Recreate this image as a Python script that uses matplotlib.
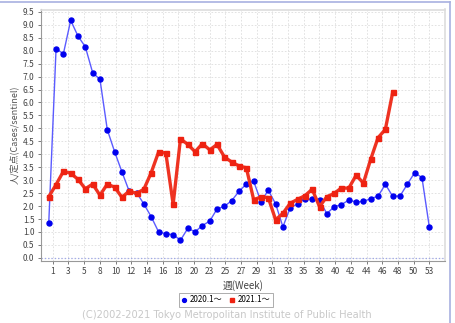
"""週別 定点当たり報告数（2020年 / 2021年）の折れ線グラフ。"""

import matplotlib

matplotlib.use("Agg")
import matplotlib.pyplot as plt
import numpy as np
from matplotlib.lines import Line2D

plt.rcParams["font.family"] = ["Noto Sans CJK JP", "DejaVu Sans"]
plt.rcParams["axes.unicode_minus"] = False

# ---- データ ----
weeks_2020 = list(range(1, 54))
cases_2020 = [
    1.34, 8.08, 7.88, 9.17, 8.56, 8.15, 7.15, 6.89, 4.95, 4.10,
    3.32, 2.57, 2.52, 2.08, 1.59, 1.01, 0.93, 0.90, 0.68, 1.14,
    1.01, 1.25, 1.42, 1.89, 1.99, 2.21, 2.57, 2.85, 2.96, 2.17,
    2.61, 2.09, 1.20, 1.94, 2.08, 2.28, 2.26, 2.23, 1.71, 1.97,
    2.06, 2.23, 2.16, 2.18, 2.29, 2.38, 2.84, 2.38, 2.39, 2.84,
    3.29, 3.10, 1.21,
]
weeks_2021 = list(range(1, 49))
cases_2021 = [
    2.36, 2.83, 3.34, 3.27, 3.03, 2.67, 2.85, 2.42, 2.85, 2.73,
    2.34, 2.58, 2.49, 2.65, 3.29, 4.08, 4.05, 2.07, 4.60, 4.38,
    4.10, 4.41, 4.17, 4.38, 3.90, 3.70, 3.55, 3.48, 2.25, 2.35,
    2.33, 1.47, 1.72, 2.11, 2.26, 2.40, 2.65, 1.98, 2.36, 2.49,
    2.70, 2.69, 3.19, 2.89, 3.81, 4.64, 4.96, 6.39,
]
week_labels = ["1", "3", "5", "8", "10", "12", "14", "16", "18", "20", "23", "25",
               "27", "29", "31", "33", "35", "38", "40", "42", "44", "46", "48",
               "50", "53"]
y_ticks = np.arange(0, 9.51, 0.5)

W, H = 455, 323
fig = plt.figure(figsize=(W / 100, H / 100), dpi=100)
ax = fig.add_axes([40.7 / W, 1 - 261 / H, (445 - 40.7) / W, (261 - 9.5) / H])

ax.plot(weeks_2020, cases_2020, color="#5b5bff", linewidth=1.0, marker="o",
        markersize=3.6, markerfacecolor="#0000ee", markeredgecolor="#0000ee",
        zorder=3, label="2020.1～")
ax.plot(weeks_2021, cases_2021, color="#ee3322", linewidth=2.4, marker="s",
        markersize=3.6, markerfacecolor="#ee2211", markeredgecolor="#ee2211",
        zorder=4, label="2021.1～")
ax.axhline(0, color="#9fa8e8", linestyle=":", linewidth=0.9, zorder=1)

ax.set_xlim(-0.1, 55.15)
ax.set_ylim(-0.12, 9.59)
ax.set_xticks(np.linspace(1.55, 53, len(week_labels)))
ax.set_xticklabels(week_labels)
ax.set_yticks(y_ticks)
ax.set_yticklabels([f"{v:.1f}" for v in y_ticks])
ax.tick_params(axis="both", labelsize=6, colors="#666666", length=2.5,
               width=0.6, pad=2)
ax.tick_params(axis="both", labelcolor="#444444")
ax.grid(True, color="#dddddd", linestyle=(0, (2, 2)), linewidth=0.6)
ax.set_axisbelow(True)

for side in ("left", "bottom"):
    ax.spines[side].set_color("#999999")
    ax.spines[side].set_linewidth(0.8)
for side in ("top", "right"):
    ax.spines[side].set_color("#dddddd")
    ax.spines[side].set_linewidth(1.2)

ax.set_ylabel("人/定点(Cases/sentinel)", fontsize=6.5, color="#555555", labelpad=3)
ax.set_xlabel("週(Week)", fontsize=7, color="#444444", labelpad=3)

leg = fig.legend(handles=[
    Line2D([], [], linestyle="none", marker="o", markersize=2.8,
           color="#0000ee", label="2020.1～"),
    Line2D([], [], linestyle="none", marker="s", markersize=2.8,
           color="#ee2211", label="2021.1～"),
], loc="center", bbox_to_anchor=(226 / W, 1 - 300 / H), ncol=2, fontsize=5.8,
    frameon=True, fancybox=False, edgecolor="#888888", handlelength=0.6,
    handletextpad=0.35, columnspacing=1.0, borderpad=0.3)
leg.get_frame().set_linewidth(0.6)

fig.text(227 / W, 1 - 314.5 / H,
         "(C)2002-2021 Tokyo Metropolitan Institute of Public Health",
         ha="center", va="center", fontsize=7.1, color="#c8c8c8",
         family=["DejaVu Sans"])

# 外枠（上・右）
fig.add_artist(Line2D([0, 449.5 / W], [1 - 1.7 / H, 1 - 1.7 / H],
                      transform=fig.transFigure, color="#a8b0e0", linewidth=1.2))
fig.add_artist(Line2D([449.5 / W, 449.5 / W], [0, 1 - 1.7 / H],
                      transform=fig.transFigure, color="#a8b0e0", linewidth=1.2))

fig.savefig("out.png", dpi=100)
